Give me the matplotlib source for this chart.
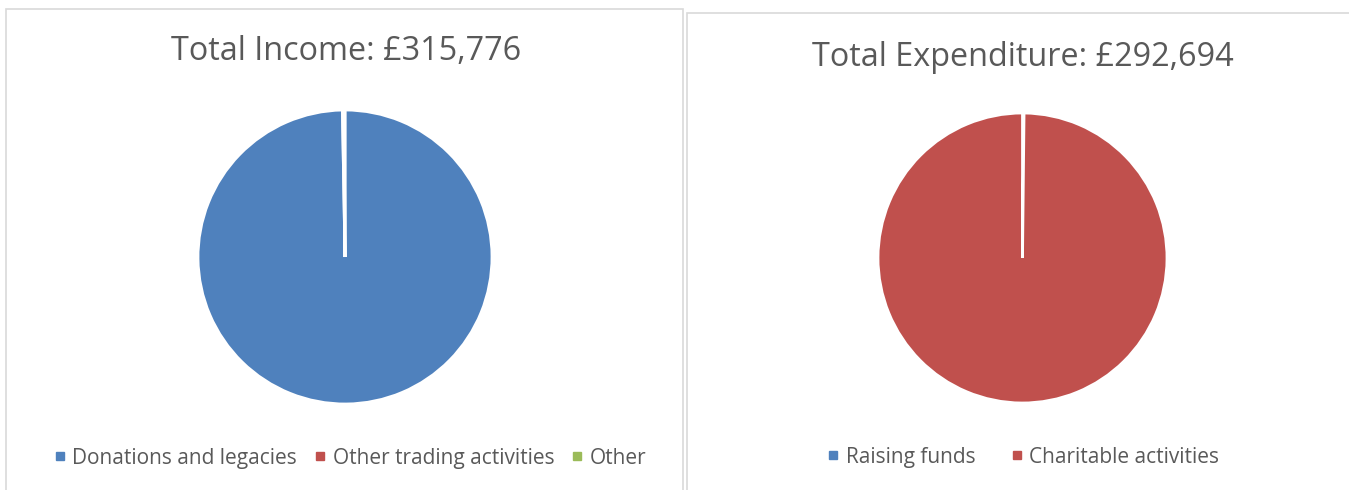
import matplotlib
matplotlib.use("Agg")
import matplotlib.pyplot as plt
from matplotlib.patches import Rectangle
from matplotlib.lines import Line2D

income_labels = ["Donations and legacies", "Other trading activities", "Other"]
income_values = [314900, 600, 276]
income_colors = ["#4f81bd", "#c0504d", "#9bbb59"]
income_title = "Total Income: £315,776"

exp_labels = ["Raising funds", "Charitable activities"]
exp_values = [500, 292194]
exp_colors = ["#4f81bd", "#c0504d"]
exp_title = "Total Expenditure: £292,694"

W, H = 1349, 490
fig = plt.figure(figsize=(W / 100, H / 100), dpi=100)
plt.rcParams['font.family'] = ['Open Sans', 'DejaVu Sans']
text_color = "#595959"

def px_axes(x0, y0, x1, y1):
    return fig.add_axes([x0 / W, 1 - y1 / H, (x1 - x0) / W, (y1 - y0) / H])

# panel borders
for (x0, y0, x1, y1) in [(6, 9, 683, 492), (687, 13, 1351, 492)]:
    fig.patches.append(Rectangle((x0 / W, 1 - y1 / H), (x1 - x0) / W, (y1 - y0) / H,
                                 transform=fig.transFigure, fill=False,
                                 edgecolor="#d9d9d9", linewidth=1.2))

def draw_pie(box, values, colors, labels, title, tx, ty, lx, ly, col_sp):
    ax = px_axes(*box)
    ax.pie(values, colors=colors, startangle=90, counterclock=False, radius=1,
           wedgeprops=dict(edgecolor="white", linewidth=2))
    ax.set_xlim(-1, 1)
    ax.set_ylim(-1, 1)
    ax.set_aspect("auto")
    ax.axis("off")
    fig.text(tx / W, 1 - ty / H, title, ha="center", va="center",
             fontsize=23.3, color=text_color)
    handles = [Line2D([0], [0], marker="s", linestyle="none", markersize=5.5,
                      markerfacecolor=c, markeredgecolor=c) for c in colors]
    fig.legend(handles, labels, loc="center", ncol=len(labels), frameon=False,
               bbox_to_anchor=(lx / W, 1 - ly / H), fontsize=15,
               labelcolor=text_color, handletextpad=0.3, columnspacing=col_sp,
               handlelength=0.6)

draw_pie((198, 110, 492, 404), income_values, income_colors, income_labels,
         income_title, 346, 52, 350, 458, 0.8)
draw_pie((878, 113, 1167, 403), exp_values, exp_colors, exp_labels,
         exp_title, 1023, 57, 1023, 457, 1.68)

fig.savefig("out.png", dpi=100, facecolor="white")
